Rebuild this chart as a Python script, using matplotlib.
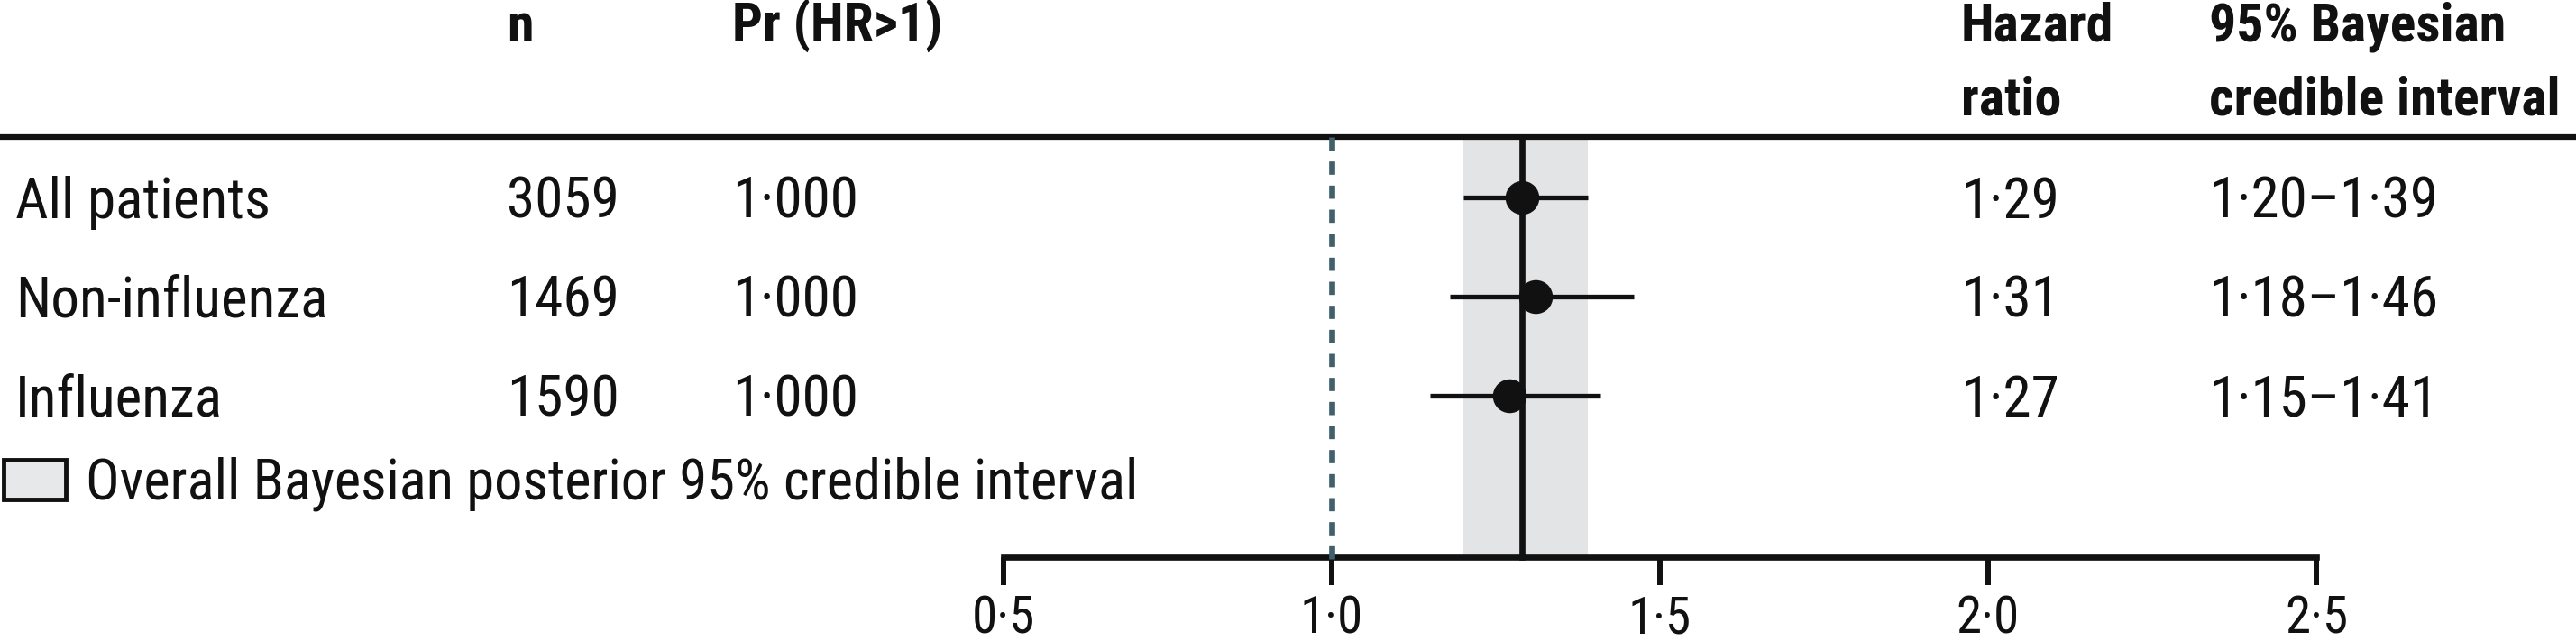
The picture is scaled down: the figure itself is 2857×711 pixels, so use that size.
import matplotlib
matplotlib.use("Agg")
import matplotlib.pyplot as plt
import matplotlib.transforms as mtransforms
from matplotlib.patches import Patch
from matplotlib import font_manager

# data
groups = ["All patients", "Non-influenza", "Influenza"]
n_patients = [3059, 1469, 1590]
pr_hr_gt1 = [1.000, 1.000, 1.000]
hazard_ratio = [1.29, 1.31, 1.27]
ci_low = [1.20, 1.18, 1.15]
ci_high = [1.39, 1.46, 1.41]
overall_hr = 1.29
overall_low = 1.20
overall_high = 1.39
x_ticks = [0.5, 1.0, 1.5, 2.0, 2.5]
legend_label = "Overall Bayesian posterior 95% credible interval"

# pick a narrow font if we have one
available = {f.name for f in font_manager.fontManager.ttflist}
family = "DejaVu Sans"
for cand in ["Liberation Sans Narrow", "Roboto Condensed", "DejaVu Sans Condensed", "Liberation Sans"]:
    if cand in available:
        family = cand
        break
plt.rcParams["font.family"] = [family, "DejaVu Sans"]

def dot(v, nd):
    # Lancet style decimal point
    return f"{v:.{nd}f}".replace(".", "\u00b7")

W, H = 2857, 711
fig = plt.figure(figsize=(W / 100, H / 100), dpi=100)
ax = fig.add_axes([0, 0, 1, 1])

# pixel layout -> data limits
x0_px, unit_px = 1113, 728       # where 0.5 sits, px per 1.0 of HR
ax.set_xlim(0.5 - x0_px / unit_px, 0.5 + (W - x0_px) / unit_px)
row0_px, row_px = 219, 110
ax.set_ylim((H - row0_px) / row_px, -row0_px / row_px)

def ry(px):
    return (px - row0_px) / row_px

fs = 45.5
txt_col = "#111111"
blend = mtransforms.blended_transform_factory(fig.transFigure, ax.transData)

header_y = ry(152)
axis_y = ry(618)

# header rule
ax.axhline(header_y, color="#111111", lw=4.5, zorder=5)

# overall band, overall line, null line
ax.fill_betweenx([header_y, axis_y], overall_low, overall_high, color="#e3e4e6", lw=0, zorder=1)
ax.plot([overall_hr, overall_hr], [header_y, axis_y], color="#111111", lw=4.8, zorder=3)
ax.plot([1.0, 1.0], [header_y, ry(621)], color="#41606c", lw=4.8, dashes=(2.2, 1.8), zorder=7)

# per group estimates
rows = list(range(len(groups)))
ax.errorbar(hazard_ratio, rows,
            xerr=[[h - l for h, l in zip(hazard_ratio, ci_low)],
                  [u - h for h, u in zip(hazard_ratio, ci_high)]],
            fmt="o", color="#111111", ms=26, elinewidth=3.8, capsize=0, zorder=4)

# axis
for s in ["top", "right", "left"]:
    ax.spines[s].set_visible(False)
ax.spines["bottom"].set_position(("data", axis_y))
ax.spines["bottom"].set_bounds(x_ticks[0], x_ticks[-1])
ax.spines["bottom"].set_linewidth(4.8)
ax.spines["bottom"].set_color("#111111")
ax.spines["bottom"].set_zorder(6)
ax.set_xticks(x_ticks)
ax.set_xticklabels([dot(t, 1) for t in x_ticks], fontsize=41, color=txt_col)
ax.tick_params(axis="x", length=22, width=4.3, pad=8, color="#111111")
ax.set_yticks([])

# table text
cols = {"label": 17, "n": 562, "pr": 812, "hr": 2175, "ci": 2450}
hb1, hb2 = ry(46), ry(128)
hfs = 43
hkw = dict(transform=blend, fontsize=hfs, weight="bold", va="baseline", color=txt_col)
ax.text(cols["n"] / W, hb1, "n", **hkw)
ax.text(cols["pr"] / W, hb1, "Pr (HR>1)", **hkw)
ax.text(cols["hr"] / W, hb1, "Hazard", **hkw)
ax.text(cols["hr"] / W, hb2, "ratio", **hkw)
ax.text(cols["ci"] / W, hb1, "95% Bayesian", **hkw)
ax.text(cols["ci"] / W, hb2, "credible interval", **hkw)

base_off = (242 - row0_px) / row_px
bkw = dict(transform=blend, fontsize=fs, va="baseline", color=txt_col)
for i, g in enumerate(groups):
    y = i + base_off
    ax.text(cols["label"] / W, y, g, **bkw)
    ax.text(cols["n"] / W, y, str(n_patients[i]), **bkw)
    ax.text(cols["pr"] / W, y, dot(pr_hr_gt1[i], 3), **bkw)
    ax.text(cols["hr"] / W, y, dot(hazard_ratio[i], 2), **bkw)
    ax.text(cols["ci"] / W, y, dot(ci_low[i], 2) + "\u2013" + dot(ci_high[i], 2), **bkw)

# legend
leg = ax.legend(handles=[Patch(facecolor="#e6e8ea", edgecolor="#111111", linewidth=3.5)],
                labels=[legend_label], loc="center left",
                bbox_to_anchor=(4 / W, ry(537)), bbox_transform=blend,
                frameon=False, fontsize=45, handlelength=1.1, handleheight=0.72,
                handletextpad=0.35, borderpad=0, borderaxespad=0)
for t in leg.get_texts():
    t.set_color(txt_col)

fig.savefig("out.png", dpi=100)
